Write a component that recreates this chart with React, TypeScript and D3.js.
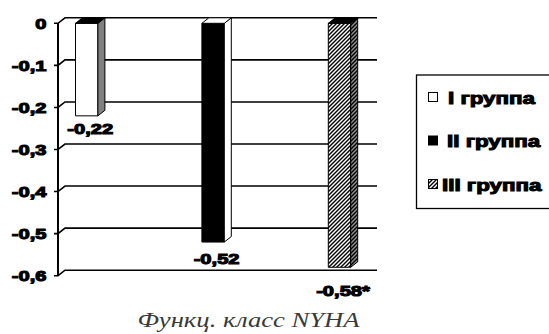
import React from 'react';
import * as d3 from 'd3';

const series = ['I группа', 'II группа', 'III группа'];
const values = [-0.22, -0.52, -0.58];
const valueLabels = ['-0,22', '-0,52', '-0,58*'];
const yTicks = [0, -0.1, -0.2, -0.3, -0.4, -0.5, -0.6];
const yTickLabels = ['0', '-0,1', '-0,2', '-0,3', '-0,4', '-0,5', '-0,6'];
const axisTitle = 'Функц. класс NYHA';

const W = 549, H = 334;
const axisX = 58;
const DX = 7, DY = -5.5;
const gridRight = 377;
const barW = 22.4;
const SX = 1.3; // horizontal stretch of the text
const FONT = 'Arial, "Liberation Sans", sans-serif';

const faces = [
  { front: '#ffffff', side: '#808080', top: '#000000' },
  { front: '#000000', side: '#ffffff', top: '#ffffff' },
  { front: 'url(#hatch)', side: 'url(#hatchDark)', top: '#000000' },
];
const labelDy = [18, 22, 28.5];
const legendRows = [97.5, 141, 184.5];
const legendTextX = [448, 447, 442];

export default function App() {
  const y = d3.scaleLinear().domain([-0.6, 0]).range([275.7, 23.3]);
  const x = d3.scalePoint<string>().domain(series).range([86.7, 339.5]);

  const bold = { fontFamily: FONT, fontWeight: 'bold', stroke: '#000', strokeWidth: 1.1, fill: '#000' };

  return (
    <svg width={W} height={H} style={{ position: 'absolute', left: 0, top: 0, background: '#fff' }}>
      <defs>
        <pattern id="hatch" patternUnits="userSpaceOnUse" width={4} height={4}>
          <rect width={4} height={4} fill="#fff" />
          <path d="M-1,1 l2,-2 M0,4 l4,-4 M3,5 l2,-2" stroke="#000" strokeWidth={1.4} />
        </pattern>
        <pattern id="hatchDark" patternUnits="userSpaceOnUse" width={4} height={4}>
          <rect width={4} height={4} fill="#909090" />
          <path d="M-1,1 l2,-2 M0,4 l4,-4 M3,5 l2,-2" stroke="#000" strokeWidth={1.4} />
        </pattern>
      </defs>

      {/* gridlines on back wall with depth diagonals */}
      {yTicks.map((t, i) => (
        <g key={i}>
          <path
            d={`M${axisX - 4},${y(t)} L${axisX},${y(t)} L${axisX + DX},${y(t) + DY} L${gridRight},${y(t) + DY}`}
            fill="none" stroke="#000" strokeWidth={1.6}
          />
          <text
            transform={`translate(46.5,${y(t)}) scale(${SX},1)`}
            textAnchor="end" dy="0.36em" fontSize={15.5} {...bold}
          >{yTickLabels[i]}</text>
        </g>
      ))}
      <line x1={axisX} x2={axisX} y1={y(0)} y2={y(-0.6)} stroke="#000" strokeWidth={2} />

      {/* bars */}
      {series.map((s, i) => {
        const cx = x(s) as number;
        const xl = cx - barW / 2, xr = cx + barW / 2;
        const y0 = y(0), y1 = y(values[i]);
        const f = faces[i];
        return (
          <g key={s}>
            <g stroke="#000" strokeWidth={1} strokeLinejoin="round">
              <rect x={xl} y={y0} width={barW} height={y1 - y0} fill={f.front} />
              <path d={`M${xr},${y0} L${xr + DX},${y0 + DY} L${xr + DX},${y1 + DY} L${xr},${y1} Z`} fill={f.side} />
              <path d={`M${xl},${y0} L${xl + DX},${y0 + DY} L${xr + DX},${y0 + DY} L${xr},${y0} Z`} fill={f.top} />
            </g>
            <text
              transform={`translate(${cx + DX / 2},${y1 + labelDy[i]}) scale(${SX},1)`}
              textAnchor="middle" fontSize={15.5} {...bold}
            >{valueLabels[i]}</text>
          </g>
        );
      })}

      {/* axis title */}
      <text
        transform={`translate(248.5,327) scale(${SX},1)`}
        textAnchor="middle"
        fontFamily='"Liberation Serif", "Times New Roman", serif' fontStyle="italic" fontSize={20.5}
        fill="#3a3a3a"
      >{axisTitle}</text>

      {/* legend */}
      <rect x={416.5} y={75} width={140} height={133.5} fill="#fff" stroke="#000" strokeWidth={1.3} />
      {series.map((s, i) => (
        <g key={s}>
          <rect x={428.5} y={legendRows[i] - 5} width={9} height={9}
            fill={i === 0 ? '#fff' : i === 1 ? '#000' : 'url(#hatch)'} stroke="#000" strokeWidth={1} />
          <text
            transform={`translate(${legendTextX[i]},${legendRows[i]}) scale(${SX},1)`}
            dy="0.36em" fontSize={17.2} {...bold}
          >{s}</text>
        </g>
      ))}
    </svg>
  );
}
